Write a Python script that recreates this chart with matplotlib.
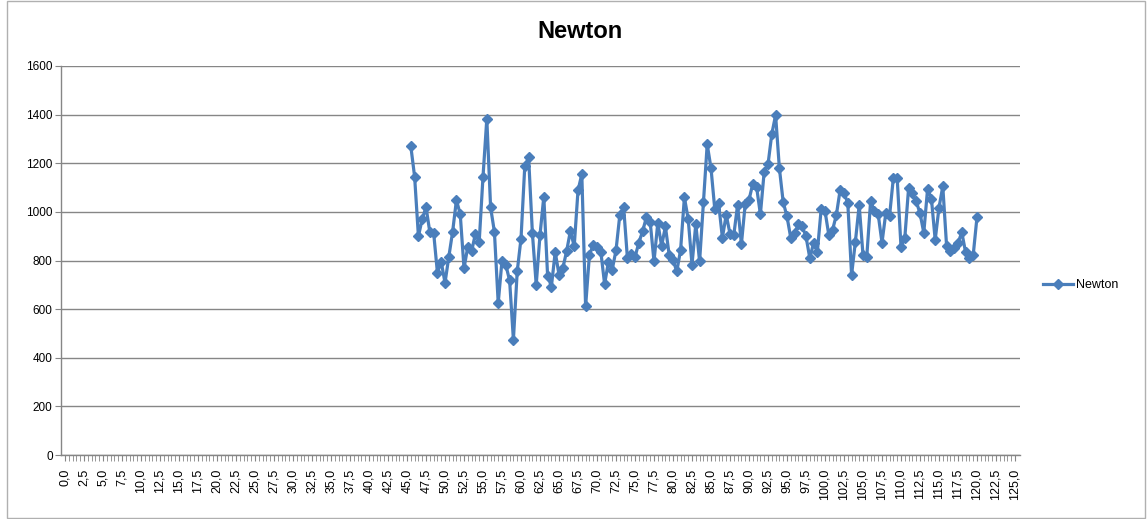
import matplotlib.pyplot as plt
from matplotlib.patches import Rectangle
import numpy as np

# category axis: 0,0 .. 125,0 in steps of 0,5
categories = np.arange(0, 125.01, 0.5)

# Newton series, starts at 45,5 and runs to 120,0
first_x = 45.5
newton = [
    1270, 1145, 900, 970, 1020, 917, 915, 750, 795, 708,
    815, 918, 1048, 992, 768, 857, 838, 910, 878, 1145,
    1383, 1018, 918, 625, 800, 782, 718, 474, 755, 890,
    1190, 1225, 912, 700, 905, 1063, 737, 693, 835, 742,
    768, 838, 922, 858, 1088, 1155, 611, 822, 865, 855,
    837, 703, 794, 762, 842, 987, 1022, 810, 826, 814,
    873, 920, 978, 958, 796, 955, 860, 940, 822, 802,
    755, 844, 1060, 970, 783, 950, 796, 1040, 1278, 1180,
    1010, 1035, 894, 988, 910, 905, 1029, 867, 1032, 1049,
    1116, 1102, 990, 1166, 1195, 1320, 1398, 1179, 1040, 981,
    892, 912, 950, 940, 899, 810, 872, 837, 1013, 1004,
    905, 926, 988, 1092, 1077, 1036, 741, 878, 1028, 823,
    816, 1043, 1005, 990, 873, 995, 985, 1141, 1138, 857,
    892, 1098, 1077, 1043, 995, 914, 1095, 1055, 885, 1017,
    1105, 860, 838, 850, 872, 916, 834, 810, 822, 978,
]
xs = first_x + 0.5 * np.arange(len(newton))

yticks = list(range(0, 1601, 200))

blue = '#4A7EBB'
grey = '#868686'

plt.rcParams['font.family'] = ['Liberation Sans', 'DejaVu Sans']

fig = plt.figure(figsize=(11.47, 5.19), dpi=100)
ax = fig.add_axes([61 / 1147, 64 / 519, 959 / 1147, 389 / 519])

ax.plot(xs, newton, color=blue, lw=2.3, marker='D', ms=5.5,
        mfc=blue, mec=blue, label='Newton')

ax.set_xlim(-0.53, 125.66)
ax.set_ylim(0, 1600)
ax.set_yticks(yticks)
ax.set_yticklabels([str(v) for v in yticks], fontsize=8.5)

major = categories[::5]
ax.set_xticks(major)
ax.set_xticklabels(['{:.1f}'.format(v).replace('.', ',') for v in major],
                   rotation=90, fontsize=9)
ax.set_xticks(categories, minor=True)
ax.tick_params(axis='x', which='both', direction='out', length=4,
               color=grey, pad=6)
ax.tick_params(axis='y', direction='out', length=4, color=grey, pad=2)

ax.grid(axis='y', color=grey, lw=1)
ax.set_axisbelow(True)
for s in ['top', 'right']:
    ax.spines[s].set_visible(False)
for s in ['left', 'bottom']:
    ax.spines[s].set_color(grey)
    ax.spines[s].set_linewidth(1)

fig.text(580 / 1147, 1 - 32 / 519, 'Newton', ha='center', va='center',
         fontsize=17, fontweight='bold')

fig.legend(loc='center left', bbox_to_anchor=(1032 / 1147, 1 - 285 / 519),
           frameon=False, fontsize=9, handlelength=2.4, handletextpad=0.2)

fig.patches.append(Rectangle((7 / 1147, 1 / 519), 1138 / 1147, 517 / 519,
                             transform=fig.transFigure, fill=False,
                             ec='#b0b0b0', lw=1))

fig.savefig('out.png', dpi=100)
